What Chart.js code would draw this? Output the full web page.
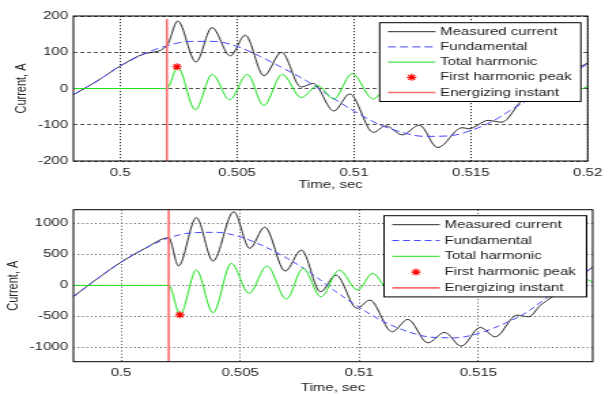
<!DOCTYPE html>
<html>
<head>
<meta charset="utf-8">
<script src="https://cdn.jsdelivr.net/npm/chart.js@4.4.0/dist/chart.umd.min.js"></script>
<style>
  body { margin: 0; background: #fff; }
  #wrap { position: relative; width: 609px; height: 394px; }
  canvas { position: absolute; left: 0; }
</style>
</head>
<body>
<div id="wrap">
  <!-- drawn narrower and stretched sideways, like the source figure -->
  <canvas id="topChart" width="448" height="197" style="top:0;width:609px;height:197px"></canvas>
  <canvas id="bottomChart" width="448" height="197" style="top:197px;width:609px;height:197px"></canvas>
</div>
<script>
const seriesNames = ['Measured current', 'Fundamental', 'Total harmonic', 'First harmonic peak', 'Energizing instant'];
const energizeTime = 0.502;

const xTicksTop = [0.5, 0.505, 0.51, 0.515, 0.52];
const yTicksTop = [-200, -100, 0, 100, 200];
const xTicksBottom = [0.5, 0.505, 0.51, 0.515];
const yTicksBottom = [-1000, -500, 0, 500, 1000];

// [time (s), current (A)]
const topMeasured = [
  [0.498, -17], [0.499, 20], [0.500, 62], [0.501, 95], [0.502, 118],
  [0.50246, 186], [0.50324, 73], [0.50393, 168], [0.50471, 90], [0.50535, 147],
  [0.50615, 35], [0.5069, 100], [0.50774, 4], [0.50826, 14], [0.50914, -62],
  [0.50982, -15], [0.51083, -121], [0.51136, -103], [0.51207, -128], [0.5128, -101],
  [0.51358, -163], [0.51463, -108], [0.51491, -111], [0.51575, -88], [0.51632, -93],
  [0.51716, -35], [0.5185, 22], [0.520, 70]
];
const topFundamental = [
  [0.498, -17], [0.499, 20], [0.500, 62], [0.501, 95], [0.502, 118], [0.503, 130],
  [0.504, 130], [0.505, 116], [0.506, 88], [0.507, 55], [0.508, 20], [0.509, -22],
  [0.510, -62], [0.511, -97], [0.512, -120], [0.513, -132], [0.514, -131], [0.515, -116],
  [0.516, -88], [0.517, -48], [0.518, -12], [0.519, 28], [0.520, 68]
];
const topHarmonic = [
  [0.498, 0], [0.502, 0], [0.50246, 59], [0.50321, -59], [0.50394, 39], [0.50468, -31],
  [0.50544, 39], [0.50614, -47], [0.50693, 39], [0.50775, -25], [0.50845, 8], [0.50914, -29],
  [0.50992, 41], [0.51083, -29], [0.5115, 10], [0.5122, -10], [0.5129, 25], [0.5136, -30],
  [0.5144, 18], [0.5151, -15], [0.5158, 15], [0.5165, -20], [0.5172, 10], [0.5179, -10],
  [0.5186, 12], [0.5193, -8], [0.520, 5]
];
const topPeak = [[0.50243, 60]];
const topEnergize = [-200, 192];

// [time (s), current (A)]
const bottomMeasured = [
  [0.498, -180], [0.499, 108], [0.500, 375], [0.501, 595], [0.502, 768],
  [0.50241, 314], [0.50316, 1091], [0.50386, 392], [0.50473, 1187], [0.5054, 597],
  [0.50603, 940], [0.50689, 231], [0.50757, 569], [0.50837, -103], [0.50902, 166],
  [0.50991, -371], [0.51044, -237], [0.51138, -748], [0.51204, -548], [0.51288, -926],
  [0.51358, -758], [0.51428, -979], [0.51508, -677], [0.51571, -829], [0.51662, -479],
  [0.51711, -506], [0.51761, -318], [0.5187, -40], [0.5198, 300]
];
const bottomFundamental = [
  [0.498, -180], [0.499, 108], [0.500, 375], [0.501, 595], [0.502, 765], [0.503, 848],
  [0.504, 855], [0.505, 782], [0.506, 630], [0.507, 430], [0.508, 190], [0.509, -95],
  [0.510, -355], [0.511, -580], [0.512, -740], [0.513, -835], [0.514, -845], [0.515, -775],
  [0.516, -630], [0.517, -440], [0.518, -160], [0.519, 100], [0.5198, 290]
];
const bottomHarmonic = [
  [0.498, 0], [0.502, 0], [0.50248, -470], [0.50316, 247], [0.50386, -442], [0.50463, 355],
  [0.50537, -129], [0.50613, 311], [0.50694, -221], [0.50764, 274], [0.50839, -184],
  [0.50916, 247], [0.50993, -76], [0.51056, 194], [0.5113, -100], [0.5120, 210],
  [0.5129, -90], [0.5136, 95], [0.5143, -130], [0.5151, 100], [0.5158, -120], [0.5166, 50],
  [0.5172, -80], [0.5180, 80], [0.5187, -60], [0.5194, 115], [0.5198, 50]
];
const bottomPeak = [[0.50247, -475]];
const bottomEnergize = [-1230, 1220];

Chart.defaults.font.family = '"Liberation Sans", Arial, sans-serif';
Chart.defaults.font.size = 11;
Chart.defaults.color = '#222';

const pts = arr => arr.map(([x, y]) => ({ x, y }));

// frame round the plot + boxed legend inside the upper right corner
const boxLegend = {
  id: 'boxLegend',
  afterDraw(chart, args, opts) {
    const { ctx, chartArea: a } = chart;
    ctx.save();
    ctx.setLineDash([]);
    ctx.strokeStyle = '#000';
    ctx.lineWidth = 1;
    ctx.strokeRect(a.left, a.top, a.right - a.left, a.bottom - a.top);

    const items = chart.data.datasets;
    const h = opts.first * 2 + (items.length - 1) * opts.row;
    const x = a.right - opts.right - opts.width;
    const y = a.top + opts.top;
    ctx.fillStyle = '#fff';
    ctx.fillRect(x, y, opts.width, h);
    ctx.strokeRect(x, y, opts.width, h);

    ctx.font = '11px "Liberation Sans", Arial, sans-serif';
    ctx.textBaseline = 'middle';
    items.forEach((ds, i) => {
      const cy = y + opts.first + i * opts.row;
      const x0 = x + 6, x1 = x + 41;
      if (ds.showLine === false) {
        const cx = (x0 + x1) / 2, r = 3.5;
        ctx.strokeStyle = ds.pointBorderColor;
        ctx.lineWidth = 1.2;
        ctx.beginPath();
        ctx.moveTo(cx - r, cy); ctx.lineTo(cx + r, cy);
        ctx.moveTo(cx, cy - r); ctx.lineTo(cx, cy + r);
        ctx.moveTo(cx - r * 0.7, cy - r * 0.7); ctx.lineTo(cx + r * 0.7, cy + r * 0.7);
        ctx.moveTo(cx - r * 0.7, cy + r * 0.7); ctx.lineTo(cx + r * 0.7, cy - r * 0.7);
        ctx.stroke();
      } else {
        ctx.strokeStyle = ds.borderColor;
        ctx.lineWidth = ds.borderWidth;
        ctx.setLineDash(ds.borderDash || []);
        ctx.beginPath();
        ctx.moveTo(x0, cy); ctx.lineTo(x1, cy);
        ctx.stroke();
        ctx.setLineDash([]);
      }
      ctx.fillStyle = '#222';
      ctx.fillText(ds.label, x + 44.5, cy);
    });
    ctx.restore();
  }
};

function buildChart(id, cfg) {
  return new Chart(document.getElementById(id), {
    type: 'line',
    data: {
      datasets: [
        { label: seriesNames[0], data: pts(cfg.measured), borderColor: '#2a2a2a', borderWidth: 1, order: 5 },
        { label: seriesNames[1], data: pts(cfg.fundamental), borderColor: '#4646ff', borderWidth: 1, borderDash: cfg.dash, order: 4 },
        { label: seriesNames[2], data: pts(cfg.harmonic), borderColor: '#1ee01e', borderWidth: 1, order: 3 },
        { label: seriesNames[3], data: pts(cfg.peak), showLine: false, pointStyle: 'star', pointRadius: 3.5,
          pointBorderColor: '#ff0000', pointBorderWidth: 1.2, order: 1 },
        { label: seriesNames[4], data: cfg.energize.map(y => ({ x: energizeTime, y })), borderColor: '#ff6b6b',
          borderWidth: 1.6, tension: 0, cubicInterpolationMode: 'default', order: 2 }
      ]
    },
    options: {
      responsive: false,
      animation: false,
      devicePixelRatio: 1,
      layout: { padding: { top: cfg.padTop, right: cfg.padRight, left: 0, bottom: 0 } },
      elements: {
        point: { radius: 0 },
        line: { cubicInterpolationMode: 'monotone', fill: false }
      },
      plugins: {
        legend: { display: false },
        tooltip: { enabled: false },
        boxLegend: cfg.legend
      },
      scales: {
        x: {
          type: 'linear',
          min: cfg.xMin, max: cfg.xMax,
          afterFit: s => { s.height = cfg.xAxisHeight; },
          afterBuildTicks: s => { s.ticks = cfg.xTicks.map(value => ({ value })); },
          ticks: { callback: v => String(v), padding: 5, maxRotation: 0, autoSkip: false },
          grid: { color: cfg.vGridColor, drawTicks: false },
          border: { display: false, dash: cfg.vGridDash },
          title: { display: true, text: 'Time, sec', font: { size: 11, lineHeight: 1 },
                   padding: { top: 0, bottom: cfg.xTitlePad } }
        },
        y: {
          min: cfg.yMin, max: cfg.yMax,
          afterFit: s => { s.width = 54; },
          afterBuildTicks: s => { s.ticks = cfg.yTicks.map(value => ({ value })); },
          ticks: { callback: v => String(v), padding: 4 },
          grid: { color: cfg.hGridColor, drawTicks: false },
          border: { display: false, dash: cfg.hGridDash },
          title: { display: true, text: 'Current, A', font: { size: 11, lineHeight: 1 },
                   padding: { top: cfg.yTitlePad, bottom: 0 } }
        }
      }
    },
    plugins: [boxLegend]
  });
}

buildChart('topChart', {
  measured: topMeasured, fundamental: topFundamental, harmonic: topHarmonic,
  peak: topPeak, energize: topEnergize,
  xTicks: xTicksTop, yTicks: yTicksTop,
  xMin: 0.498, xMax: 0.52, yMin: -200, yMax: 200,
  padTop: 16, padRight: 11, xAxisHeight: 36, xTitlePad: 6.5, yTitlePad: 10.5,
  dash: [6, 3],
  hGridColor: '#555', hGridDash: [3, 2],
  vGridColor: '#222', vGridDash: [1.2, 1.8],
  legend: { width: 148, top: 6.7, right: 5, first: 9, row: 15.2 }
});

buildChart('bottomChart', {
  measured: bottomMeasured, fundamental: bottomFundamental, harmonic: bottomHarmonic,
  peak: bottomPeak, energize: bottomEnergize,
  xTicks: xTicksBottom, yTicks: yTicksBottom,
  xMin: 0.498, xMax: 0.5198, yMin: -1230, yMax: 1220,
  padTop: 12.7, padRight: 12, xAxisHeight: 32.3, xTitlePad: 1, yTitlePad: 4.6,
  dash: [5, 3],
  hGridColor: '#555', hGridDash: [1, 2.2],
  vGridColor: '#555', vGridDash: [1, 2.2],
  legend: { width: 149, top: 6, right: 4.5, first: 9, row: 15.8 }
});
</script>
</body>
</html>
